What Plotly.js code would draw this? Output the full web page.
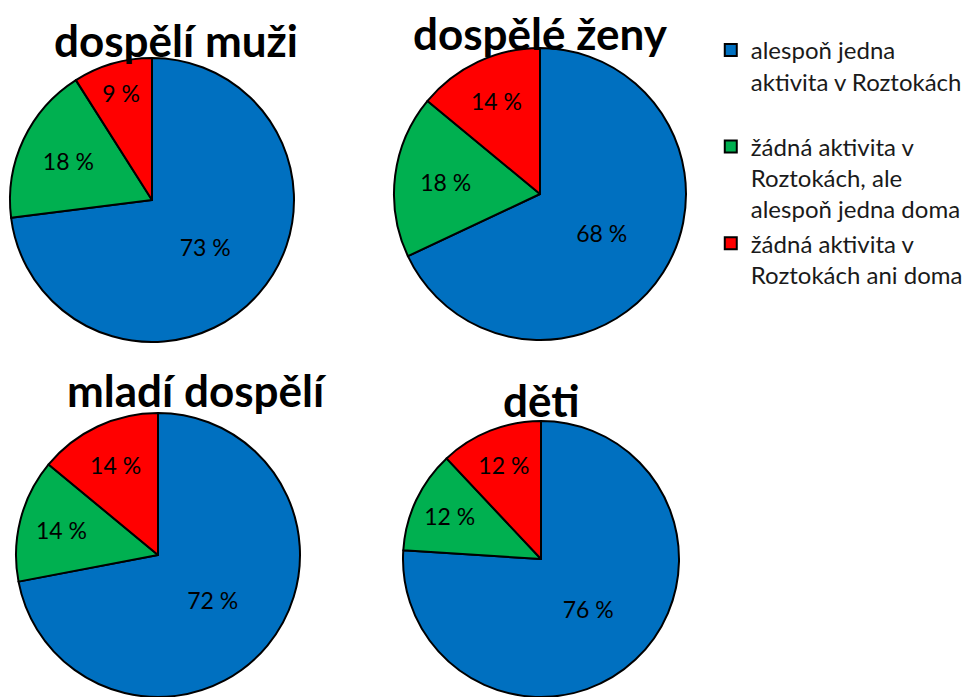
<!DOCTYPE html>
<html><head><meta charset="utf-8">
<script src="https://cdn.plot.ly/plotly-3.0.1.min.js"></script>
<style>html,body{margin:0;padding:0;background:#fff}#chart{width:971px;height:697px}</style>
</head><body><div id="chart"></div>
<script>
const categories = [
  "alespoň jedna<br>aktivita v Roztokách<br> ",
  "žádná aktivita v<br>Roztokách, ale<br>alespoň jedna doma",
  "žádná aktivita v<br>Roztokách ani doma"
];
const groups = ["dospělí muži", "dospělé ženy", "mladí dospělí", "děti"];
const valuesMuzi = [73, 18, 9];
const valuesZeny = [68, 18, 14];
const valuesMladi = [72, 14, 14];
const valuesDeti = [76, 12, 12];
const colors = ["#0070C0", "#00B050", "#FF0000"];

const W = 971, H = 697;
const geo = [
  {cx: 152, cy: 200, r: 142, tx: 176, ty: 40},
  {cx: 540, cy: 194, r: 146, tx: 540, ty: 33},
  {cx: 158, cy: 555, r: 142, tx: 197, ty: 390},
  {cx: 541, cy: 561, r: 140, tx: 541, ty: 400}
];
const allValues = [valuesMuzi, valuesZeny, valuesMladi, valuesDeti];
const FONT = "Lato, 'Open Sans', sans-serif";

const traces = allValues.map((vals, i) => {
  const g = geo[i];
  return {
    type: "pie",
    name: groups[i],
    labels: categories,
    values: vals,
    sort: false,
    direction: "clockwise",
    rotation: 0,
    marker: {colors: colors, line: {color: "#000", width: 2}},
    texttemplate: "%{value} %",
    textposition: "inside",
    insidetextorientation: "horizontal",
    textfont: {family: FONT, size: 23, color: "#000"},
    hoverinfo: "label+value",
    showlegend: i === 0,
    domain: {
      x: [(g.cx - g.r) / W, (g.cx + g.r) / W],
      y: [Math.max(0, 1 - (g.cy + g.r) / H), Math.min(1, 1 - (g.cy - g.r) / H)]
    }
  };
});

const annotations = groups.map((t, i) => ({
  text: "<b>" + t + "</b>",
  xref: "paper", yref: "paper",
  x: geo[i].tx / W, y: 1 - geo[i].ty / H,
  xanchor: "center", yanchor: "middle",
  showarrow: false,
  font: {family: FONT, size: 44, color: "#000"}
}));

const layout = {
  width: W, height: H,
  margin: {l: 0, r: 0, t: 0, b: 0},
  paper_bgcolor: "#fff",
  showlegend: true,
  legend: {
    x: 0.732, y: 0.960, xanchor: "left", yanchor: "top",
    font: {family: FONT, size: 24, color: "#1a1a1a"},
    valign: "top",
    tracegroupgap: 0,
    bgcolor: "rgba(0,0,0,0)"
  },
  annotations: annotations
};

Plotly.newPlot("chart", traces, layout, {displayModeBar: false, staticPlot: true});
</script></body></html>
